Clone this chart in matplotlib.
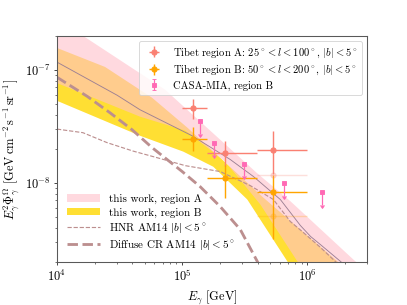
import matplotlib
matplotlib.use("Agg")
import matplotlib.pyplot as plt
import numpy as np

plt.rcParams['font.family'] = 'serif'
plt.rcParams['font.serif'] = ['cmr10']
plt.rcParams['mathtext.fontset'] = 'cm'
plt.rcParams['axes.formatter.use_mathtext'] = True

# this work, region A band (edges)
bandA_up_E = [1.0e4, 1.61e4, 7.31e4, 3.96e5, 7.31e5, 2.33e6, 3.19e6]
bandA_up_F = [2.82e-7, 2.0e-7, 6.66e-8, 1.22e-8, 6.89e-9, 2.10e-9, 1.55e-9]
bandA_lo_E = [1.0e4, 4.61e4, 1.06e5, 2.21e5, 4.21e5, 8.32e5, 9.82e5]
bandA_lo_F = [7.63e-8, 3.85e-8, 2.90e-8, 1.54e-8, 6.44e-9, 2.02e-9, 1.65e-9]

# this work, region B band (edges)
bandB_up_E = [1.0e4, 2.42e4, 5.75e4, 1.10e5, 2.01e5, 4.45e5, 1.74e6, 2.21e6]
bandB_up_F = [1.56e-7, 1.06e-7, 5.66e-8, 3.08e-8, 1.67e-8, 7.41e-9, 2.02e-9, 1.58e-9]
bandB_lo_E = [1.0e4, 4.61e4, 1.02e5, 1.77e5, 3.31e5, 6.92e5, 8.02e5]
bandB_lo_F = [5.32e-8, 2.61e-8, 1.89e-8, 1.39e-8, 7.13e-9, 2.02e-9, 1.58e-9]

# thin solid line
total_E = [1.0e4, 3.02e4, 4.61e4, 1.20e5, 2.42e5, 3.70e5, 6.08e5, 8.79e5, 1.06e6, 1.27e6, 1.84e6, 2.42e6]
total_F = [1.169e-7, 5.96e-8, 4.43e-8, 2.61e-8, 1.61e-8, 1.14e-8, 7.13e-9, 4.20e-9, 3.36e-9, 2.85e-9, 2.02e-9, 1.55e-9]

# HNR AM14
hnr_E = [1.0e4, 1.61e4, 2.51e4, 4.06e4, 6.31e4, 1.06e5, 2.01e5, 3.50e5, 5.35e5, 7.31e5, 9.29e5, 1.27e6, 1.67e6, 2.21e6]
hnr_F = [2.99e-8, 2.78e-8, 2.27e-8, 1.91e-8, 1.67e-8, 1.42e-8, 1.26e-8, 9.46e-9, 7.13e-9, 4.55e-9, 3.64e-9, 2.69e-9, 2.02e-9, 1.55e-9]

# Diffuse CR AM14
cr_E = [1.0e4, 1.74e4, 2.65e4, 3.98e4, 5.75e4, 1.0e5, 1.39e5, 2.01e5, 2.91e5, 3.98e5, 4.37e5]
cr_F = [8.59e-8, 5.83e-8, 4.17e-8, 2.95e-8, 2.05e-8, 1.26e-8, 9.27e-9, 6.18e-9, 3.87e-9, 2.02e-9, 1.65e-9]

# Tibet AS-gamma
tibet_E = [1.21e5, 2.20e5, 5.34e5]
tibet_Elo = [1.0e5, 1.58e5, 3.98e5]
tibet_Ehi = [1.58e5, 3.98e5, 1.0e6]
tibetA_F = [4.59e-8, 1.84e-8, 1.94e-8]
tibetA_up = [5.5e-8, 2.33e-8, 2.85e-8]
tibetA_lo = [3.67e-8, 1.40e-8, 1.2e-8]
tibetB_F = [2.44e-8, 1.11e-8, 8.34e-9]
tibetB_up = [3.11e-8, 1.45e-8, 1.18e-8]
tibetB_lo = [1.90e-8, 7.4e-9, 3.16e-9]
# faint extra points in last bin
faintA_F = 1.18e-8
faintB_F = 5.07e-9

# CASA-MIA upper limits
casa_E = [1.40e5, 1.80e5, 3.10e5, 6.50e5, 1.30e6]
casa_F = [3.5e-8, 2.27e-8, 1.48e-8, 1.0e-8, 8.26e-9]

fig = plt.figure(figsize=(6.4, 4.8), dpi=63.6)
ax = fig.add_axes([0.140, 0.141, 0.762, 0.741])
ax.set_xscale('log')
ax.set_yscale('log')

grid = np.logspace(4, np.log10(3.0e6), 400)
def edge(E, F, below=False):
    v = 10**np.interp(np.log10(grid), np.log10(E), np.log10(F))
    if below:
        # past the last read point the edge is under the plot floor
        v[grid > E[-1]] = 1e-12
    return v

ax.fill_between(grid, edge(bandB_lo_E, bandB_lo_F, True), edge(bandB_up_E, bandB_up_F),
                color='gold', alpha=0.8, lw=0, label='this work, region B')
ax.fill_between(grid, edge(bandA_lo_E, bandA_lo_F, True), edge(bandA_up_E, bandA_up_F),
                color='pink', alpha=0.6, lw=0, label='this work, region A')
ax.plot(total_E, total_F, color='#9c7f93', lw=1.0)
ax.plot(hnr_E, hnr_F, color='rosybrown', lw=1.3, ls='--', label=r'HNR AM14 $|b|<5^\circ$')
ax.plot(cr_E, cr_F, color='rosybrown', lw=3.2, ls='--', label=r'Diffuse CR AM14 $|b|<5^\circ$')

tE = np.array(tibet_E)
xerr = [tE - np.array(tibet_Elo), np.array(tibet_Ehi) - tE]
fA = np.array(tibetA_F)
fB = np.array(tibetB_F)
hA = ax.errorbar(tE, fA, xerr=xerr, yerr=[fA - np.array(tibetA_lo), np.array(tibetA_up) - fA],
                 fmt='o', color='salmon', ms=6, elinewidth=1.6,
                 label=r'Tibet region A: $25^\circ < l < 100^\circ$, $|b| < 5^\circ$')
hB = ax.errorbar(tE, fB, xerr=xerr, yerr=[fB - np.array(tibetB_lo), np.array(tibetB_up) - fB],
                 fmt='o', color='orange', ms=6, elinewidth=1.6,
                 label=r'Tibet region B: $50^\circ < l < 200^\circ$, $|b| < 5^\circ$')
ax.errorbar([tE[2]], [faintA_F], xerr=[[xerr[0][2]], [xerr[1][2]]], fmt='o', color='salmon',
            ms=6, elinewidth=1.6, alpha=0.25)
ax.errorbar([tE[2]], [faintB_F], xerr=[[xerr[0][2]], [xerr[1][2]]], fmt='o', color='orange',
            ms=6, elinewidth=1.6, alpha=0.25)

cF = np.array(casa_F)
hC = ax.errorbar(casa_E, cF, yerr=0.23 * cF, uplims=True, fmt='s', color='hotpink',
                 ms=5, elinewidth=1.4, capsize=2, label='CASA-MIA, region B')

ax.set_xlim(1e4, 3e6)
ax.set_ylim(2e-9, 2e-7)
ax.set_xlabel(r'$E_\gamma$ [GeV]', fontsize=14)
ax.set_ylabel(r'$E_\gamma^2\Phi_\gamma^\Omega$ [GeV$\,$cm$^{-2}\,$s$^{-1}\,$sr$^{-1}$]', fontsize=14)
ax.tick_params(axis='both', which='major', labelsize=14)
for s in ax.spines.values():
    s.set_color('0.35')
    s.set_linewidth(1.2)

leg1 = ax.legend(handles=[hA, hB, hC], loc='upper right', fontsize=12, labelspacing=0.3)
ax.add_artist(leg1)
hs, ls = ax.get_legend_handles_labels()
order = ['this work, region A', 'this work, region B',
         r'HNR AM14 $|b|<5^\circ$', r'Diffuse CR AM14 $|b|<5^\circ$']
idx = [ls.index(l) for l in order]
ax.legend([hs[i] for i in idx], order, loc='lower left', fontsize=12.5,
          frameon=False, handlelength=3.0, labelspacing=0.3)

plt.savefig('out.png', dpi=63.6)
